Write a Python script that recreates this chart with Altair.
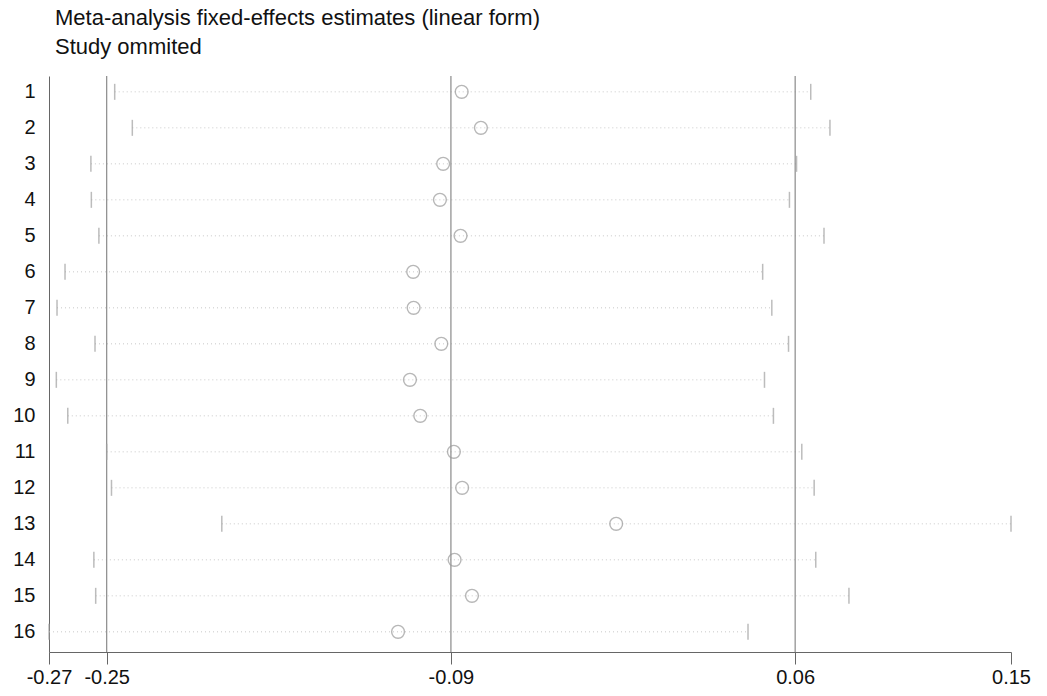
import altair as alt
import pandas as pd

studies = list(range(1, 17))
estimate = [-0.0901, -0.0817, -0.0982, -0.0996, -0.0906, -0.1113, -0.1111, -0.0990,
            -0.1127, -0.1082, -0.0935, -0.0899, -0.0226, -0.0932, -0.0856, -0.1179]
ci_low = [-0.2417, -0.2340, -0.2521, -0.2519, -0.2486, -0.2634, -0.2669, -0.2503,
          -0.2672, -0.2622, -0.2452, -0.2431, -0.1949, -0.2508, -0.2500, -0.2704]
ci_high = [0.0624, 0.0708, 0.0562, 0.0531, 0.0682, 0.0414, 0.0454, 0.0527,
           0.0422, 0.0461, 0.0585, 0.0639, 0.1499, 0.0646, 0.0791, 0.0350]

overall_est = -0.0948
overall_low = -0.2452
overall_high = 0.0556

df = pd.DataFrame({"study": studies, "est": estimate, "lo": ci_low, "hi": ci_high})
ref = pd.DataFrame({"v": [overall_low, overall_est, overall_high]})

xmin = min(ci_low)
xmax = max(ci_high)
tick_vals = [xmin, overall_low, overall_est, overall_high, xmax]

FONT = "Liberation Sans"

xscale = alt.Scale(domain=[xmin, xmax], nice=False, zero=False)
yscale = alt.Scale(domain=[0.56, 16.56], reverse=True, nice=False, zero=False)

xaxis = alt.Axis(values=tick_vals, title=None, grid=False,
                 labelExpr="replace(format(datum.value, '.2f'), '\u2212', '-')",
                 tickSize=12, tickColor="#666", domainColor="#666",
                 labelFontSize=20, labelColor="#111", labelPadding=3, labelFont=FONT,
                 labelOverlap=False, labelFlush=False)
yaxis = alt.Axis(values=studies, format="d", title=None, grid=False, ticks=False,
                 domainColor="#666", labelFontSize=20, labelColor="#111",
                 labelPadding=14, labelFont=FONT, labelOverlap=False)

base = alt.Chart(df)

ci_line = base.mark_rule(color="#c8c8c8", strokeDash=[1, 3], strokeWidth=1).encode(
    x=alt.X("lo:Q", scale=xscale, axis=xaxis),
    x2="hi:Q",
    y=alt.Y("study:Q", scale=yscale, axis=yaxis),
)

lo_tick = base.mark_tick(orient="vertical", size=16, thickness=1.5, color="#a0a0a0").encode(
    x=alt.X("lo:Q", scale=xscale, axis=xaxis),
    y=alt.Y("study:Q", scale=yscale, axis=yaxis),
)
hi_tick = base.mark_tick(orient="vertical", size=16, thickness=1.5, color="#a0a0a0").encode(
    x=alt.X("hi:Q", scale=xscale, axis=xaxis),
    y=alt.Y("study:Q", scale=yscale, axis=yaxis),
)

ref_lines = alt.Chart(ref).mark_rule(color="#8a8a8a", strokeWidth=1.2).encode(
    x=alt.X("v:Q", scale=xscale, axis=xaxis),
)

points = base.mark_point(shape="circle", filled=False, size=165, color="#999999",
                         strokeWidth=1.4).encode(
    x=alt.X("est:Q", scale=xscale, axis=xaxis),
    y=alt.Y("study:Q", scale=yscale, axis=yaxis),
)

chart = alt.layer(ci_line, ref_lines, lo_tick, hi_tick, points).properties(
    width=962,
    height=576,
    title=alt.TitleParams(
        ["Meta-analysis fixed-effects estimates (linear form)", "Study ommited"],
        anchor="start", frame="group", dx=6, fontSize=22, font=FONT,
        fontWeight="normal", color="#111", lineHeight=29, offset=16,
    ),
    autosize=alt.AutoSizeParams(type="none"),
    padding={"left": 49, "top": 76, "right": 36, "bottom": 44},
).configure_view(stroke=None).configure_axisY(labelOverlap=False)

chart.save("out.html", embed_options={"renderer": "svg", "actions": False})
